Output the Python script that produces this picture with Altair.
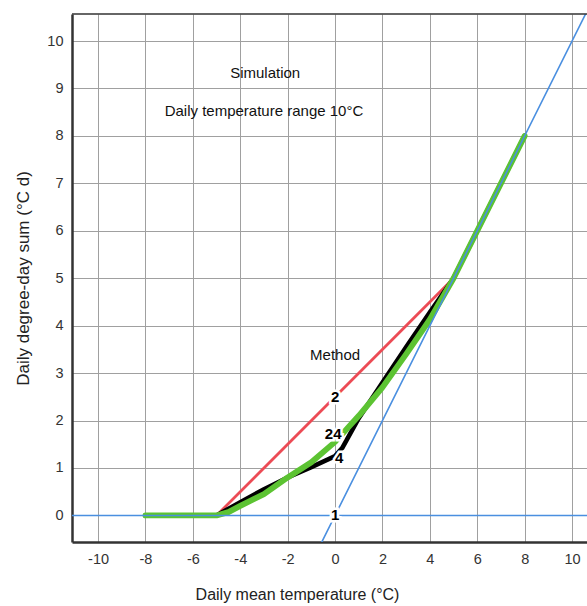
import altair as alt
import pandas as pd

# --- data ---
red_x = [-8, -5, 5, 8]
red_y = [0, 0, 5, 8]

black_x = [-8, -5, -4, -3, -2, -1, 0, 0.3, 1, 2, 3, 4, 5, 8]
black_y = [0, 0, 0.28, 0.55, 0.8, 1.02, 1.25, 1.42, 2.05, 2.8, 3.55, 4.28, 5, 8]

green_x = [-8, -5, -4.5, -4, -3, -2, -1, 0, 1, 2, 3, 4, 5, 8]
green_y = [0, 0, 0.07, 0.2, 0.45, 0.8, 1.12, 1.55, 2.1, 2.7, 3.4, 4.13, 5, 8]

blue_h_x = [-12, 12]
blue_h_y = [0, 0]
blue_d_x = [-1, 11]
blue_d_y = [-1, 11]

note_text = ["Simulation", "Daily temperature range 10°C", "Method"]
note_x = [-2.95, -3.0, 0.0]
note_y = [9.32, 8.52, 3.39]

lab_text = ["2", "24", "4", "1"]
lab_x = [0.0, -0.08, 0.17, 0.0]
lab_y = [2.5, 1.72, 1.22, 0.0]

x_ticks = [-10, -8, -6, -4, -2, 0, 2, 4, 6, 8, 10]
y_ticks = list(range(0, 11))

XDOM = [-11.1, 10.63]
YDOM = [-0.56, 10.57]

FONT = "Liberation Sans"

xs = alt.Scale(domain=XDOM, nice=False, zero=False)
ys = alt.Scale(domain=YDOM, nice=False, zero=False)

xaxis = alt.Axis(values=x_ticks, title="Daily mean temperature (°C)", grid=True,
                 gridColor="#a0a0a0", gridWidth=1, ticks=False, domainColor="#333333",
                 domainWidth=2.5, labelFont=FONT, labelFontSize=14.5, labelColor="#333333",
                 labelPadding=10, labelExpr="'' + datum.value",
                 titleFont=FONT, titleFontSize=16, titleFontWeight="normal",
                 titleColor="#222222", titleX=225, titleY=57, titleAlign="center",
                 titleBaseline="alphabetic")
yaxis = alt.Axis(values=y_ticks, title="Daily degree-day sum (°C d)", grid=True,
                 gridColor="#a0a0a0", gridWidth=1, ticks=False, domainColor="#333333",
                 domainWidth=2.5, labelFont=FONT, labelFontSize=14.5, labelColor="#333333",
                 labelPadding=9, titleFont=FONT, titleFontSize=17, titleFontWeight="normal",
                 titleColor="#222222", titlePadding=14)

EX = alt.X("x:Q", scale=xs, axis=xaxis)
EY = alt.Y("y:Q", scale=ys, axis=yaxis)


def line_layer(xv, yv, color, width):
    return alt.Chart(pd.DataFrame({"x": xv, "y": yv})).mark_line(
        color=color, strokeWidth=width, clip=True, strokeCap="round", strokeJoin="round"
    ).encode(x=EX, y=EY)


red = line_layer(red_x, red_y, "#ec4b55", 2.8)
black = line_layer(black_x, black_y, "#000000", 4.6)
green = line_layer(green_x, green_y, "#5cc332", 5.8)
blue_h = line_layer(blue_h_x, blue_h_y, "#4a8fe0", 1.6)
blue_d = line_layer(blue_d_x, blue_d_y, "#4a8fe0", 1.6)

notes = alt.Chart(pd.DataFrame({"t": note_text, "x": note_x, "y": note_y})).mark_text(
    font=FONT, fontSize=15, color="#111111", align="center", baseline="middle"
).encode(x=EX, y=EY, text="t:N")

lab_df = pd.DataFrame({"t": lab_text, "x": lab_x, "y": lab_y})
halo = alt.Chart(lab_df).mark_text(
    font=FONT, fontSize=15, fontWeight="bold", color="white", stroke="white",
    strokeWidth=5, align="center", baseline="middle"
).encode(x=EX, y=EY, text="t:N")
labs = alt.Chart(lab_df).mark_text(
    font=FONT, fontSize=15, fontWeight="bold", color="#000000", align="center", baseline="middle"
).encode(x=EX, y=EY, text="t:N")

top_rule = alt.Chart(pd.DataFrame({"a": [0]})).mark_rule(color="#333333", strokeWidth=1.5).encode(
    x=alt.value(0), x2=alt.value(515), y=alt.value(0)
)

chart = alt.layer(red, black, green, blue_h, blue_d, notes, halo, labs, top_rule).properties(
    width=515, height=528,
    autosize=alt.AutoSizeParams(type="none"),
    padding={"left": 72, "top": 14, "right": 0, "bottom": 64},
    background="white",
).configure_view(stroke=None)

chart.save("out.html", embed_options={"renderer": "svg", "actions": False})
